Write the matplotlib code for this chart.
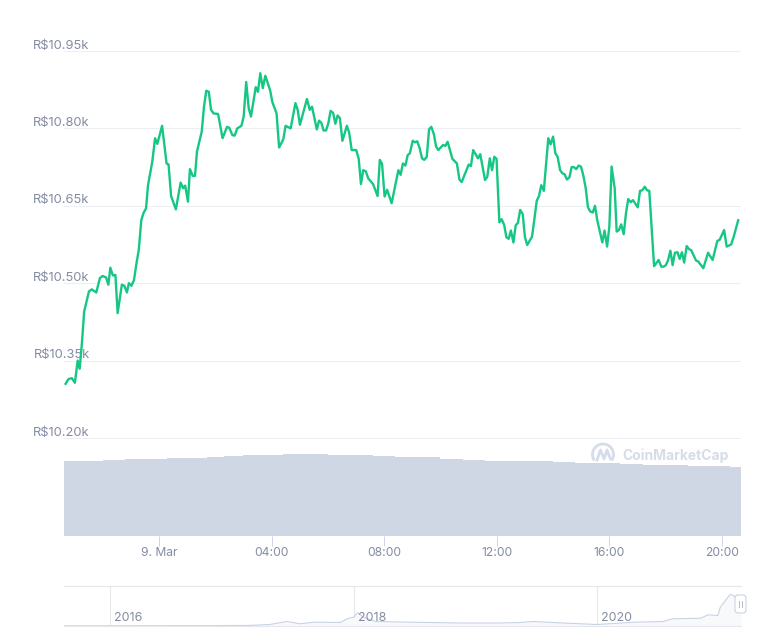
from matplotlib import pyplot as plt
from matplotlib.patches import Arc, FancyBboxPatch

# hours relative to 9 Mar 00:00
hours = [-3.32, -3.22, -3.10, -2.99, -2.89, -2.82, -2.74, -2.66, -2.49, -2.39, -2.23, -2.10, -2.00, -1.88, -1.80,
         -1.73, -1.64, -1.55, -1.47, -1.32, -1.23, -1.14, -1.07, -0.98, -0.89, -0.79, -0.72, -0.63, -0.55, -0.46,
         -0.39, -0.24, -0.14, -0.06, 0.11, 0.27, 0.34, 0.43, 0.60, 0.77, 0.86, 0.93, 1.03, 1.10, 1.20,
         1.28, 1.35, 1.52, 1.60, 1.68, 1.77, 1.85, 1.94, 2.10, 2.26, 2.42, 2.50, 2.61, 2.69, 2.78,
         2.93, 3.01, 3.10, 3.19, 3.27, 3.44, 3.52, 3.60, 3.69, 3.78, 3.95, 4.03, 4.18, 4.27, 4.42,
         4.50, 4.68, 4.85, 4.93, 5.01, 5.26, 5.36, 5.44, 5.61, 5.69, 5.77, 5.85, 5.94, 6.02, 6.10,
         6.19, 6.27, 6.35, 6.43, 6.52, 6.68, 6.76, 6.85, 7.01, 7.10, 7.18, 7.26, 7.35, 7.44, 7.61,
         7.77, 7.85, 7.93, 8.02, 8.11, 8.27, 8.51, 8.59, 8.67, 8.76, 8.84, 8.92, 9.02, 9.10, 9.18,
         9.27, 9.35, 9.43, 9.52, 9.60, 9.68, 9.77, 9.85, 9.93, 10.10, 10.18, 10.26, 10.43, 10.59, 10.68,
         10.76, 11.01, 11.09, 11.17, 11.34, 11.42, 11.59, 11.67, 11.76, 11.84, 11.92, 12.00, 12.10, 12.18, 12.27,
         12.35, 12.43, 12.51, 12.60, 12.68, 12.76, 12.84, 12.93, 13.01, 13.09, 13.26, 13.34, 13.43, 13.51, 13.59,
         13.68, 13.84, 13.92, 14.01, 14.09, 14.17, 14.26, 14.34, 14.42, 14.50, 14.59, 14.67, 14.75, 14.83, 14.92,
         15.00, 15.08, 15.17, 15.25, 15.33, 15.42, 15.50, 15.58, 15.76, 15.84, 15.93, 16.01, 16.09, 16.20, 16.27,
         16.35, 16.43, 16.52, 16.60, 16.68, 16.77, 16.85, 17.02, 17.10, 17.18, 17.27, 17.35, 17.43, 17.60, 17.76,
         17.86, 17.94, 18.02, 18.10, 18.18, 18.26, 18.34, 18.43, 18.51, 18.59, 18.67, 18.76, 18.84, 18.92, 19.09,
         19.17, 19.35, 19.52, 19.68, 19.85, 19.93, 20.09, 20.18, 20.34, 20.43, 20.59]
prices = [10305, 10314, 10316, 10307, 10350, 10334, 10384, 10445, 10484, 10488, 10482, 10510, 10514, 10511, 10497,
          10530, 10515, 10516, 10442, 10497, 10495, 10482, 10500, 10495, 10506, 10542, 10564, 10622, 10636, 10645,
          10690, 10735, 10781, 10770, 10805, 10732, 10730, 10669, 10643, 10695, 10684, 10689, 10658, 10721, 10708,
          10708, 10755, 10794, 10842, 10873, 10871, 10836, 10829, 10828, 10781, 10803, 10801, 10787, 10786, 10800,
          10805, 10823, 10890, 10839, 10823, 10880, 10871, 10907, 10878, 10902, 10874, 10851, 10829, 10763, 10779,
          10805, 10800, 10849, 10836, 10807, 10857, 10836, 10842, 10798, 10815, 10811, 10796, 10796, 10810, 10834,
          10830, 10809, 10825, 10820, 10776, 10805, 10792, 10758, 10758, 10741, 10692, 10719, 10717, 10703, 10692,
          10669, 10739, 10731, 10668, 10681, 10655, 10719, 10710, 10732, 10728, 10748, 10752, 10776, 10773, 10775,
          10761, 10742, 10739, 10745, 10798, 10803, 10789, 10765, 10758, 10768, 10766, 10774, 10741, 10732, 10701,
          10696, 10730, 10727, 10758, 10742, 10750, 10700, 10706, 10742, 10719, 10745, 10741, 10618, 10624, 10613,
          10589, 10586, 10602, 10579, 10612, 10617, 10642, 10634, 10589, 10574, 10590, 10622, 10660, 10669, 10690,
          10679, 10781, 10769, 10784, 10752, 10745, 10719, 10713, 10711, 10701, 10705, 10725, 10725, 10721, 10728,
          10726, 10710, 10684, 10647, 10639, 10637, 10650, 10622, 10579, 10602, 10571, 10610, 10726, 10684, 10600,
          10603, 10614, 10595, 10635, 10663, 10657, 10661, 10647, 10679, 10680, 10687, 10680, 10679, 10533, 10545,
          10532, 10532, 10535, 10545, 10563, 10535, 10559, 10560, 10547, 10560, 10540, 10572, 10566, 10564, 10544,
          10542, 10529, 10559, 10545, 10582, 10584, 10603, 10571, 10575, 10590, 10622]

price_ticks = [10200, 10350, 10500, 10650, 10800, 10950]
price_labels = ['R$10.20k', 'R$10.35k', 'R$10.50k', 'R$10.65k', 'R$10.80k', 'R$10.95k']

vol_hours = [-3.38, -2.6, -2.0, -1.2, -0.4, 0.3, 1.0, 1.7, 2.3, 3.0, 3.7, 4.4, 5.2, 6.0, 6.8, 7.6, 8.4, 9.2,
             10.0, 10.8, 11.6, 12.4, 13.2, 14.0, 14.8, 15.6, 16.4, 17.2, 18.0, 18.8, 19.6, 20.3, 20.69]
volumes = [75, 75.5, 76.5, 77, 77.5, 78.5, 78, 79, 80.5, 81, 81.5, 82, 82, 81.5, 81.5, 80.5, 79.5, 79,
           77.5, 76.5, 75.5, 75, 75.5, 74.5, 73.5, 73, 72, 71.5, 71, 70.5, 70, 69, 69]
x_ticks = [0, 4, 8, 12, 16, 20]
x_labels = ['9. Mar', '04:00', '08:00', '12:00', '16:00', '20:00']

nav_years = [2015.62, 2016.0, 2016.74, 2017.15, 2017.31, 2017.45, 2017.56, 2017.67, 2017.89, 2017.95, 2018.0, 2018.03,
             2018.08, 2018.18, 2018.38, 2018.87, 2019.2, 2019.37, 2019.47, 2019.75, 2020.0, 2020.3, 2020.54, 2020.62,
             2020.85, 2020.91, 2020.99, 2021.01, 2021.09, 2021.12, 2021.16, 2021.18]
nav_values = [0.2, 0.2, 0.3, 0.6, 1.5, 4.5, 2.2, 3.8, 3.5, 7.5, 8.8, 13.2,
              8.8, 4.5, 4, 3, 3, 3.5, 4.5, 2.8, 1.5, 3.8, 4.5, 7.2,
              7.8, 11.2, 10.5, 18.8, 31.5, 30.5, 23.8, 21.5]
nav_ticks = [2016, 2018, 2020]
nav_labels = ['2016', '2018', '2020']

GREY = '#858ca2'
GRID = '#eceef3'
W, H = 770, 637


def frame(left, top, right, bottom):
    return [left / W, (H - bottom) / H, (right - left) / W, (bottom - top) / H]


plt.rcParams['font.family'] = 'Inter'
fig = plt.figure(figsize=(7.7, 6.37), dpi=100)

# volume pane
ax_vol = fig.add_axes(frame(64, 438, 741, 536))
ax_vol.fill_between(vol_hours, volumes, 0, step='post', color='#cfd6e4', linewidth=0)
ax_vol.set_xlim(-3.377, 20.69)
ax_vol.set_ylim(0, 98)
ax_vol.set_yticks([])
ax_vol.set_xticks(x_ticks, x_labels)
ax_vol.tick_params(axis='x', length=7.2, width=0.72, color='#ccd6eb', labelcolor=GREY, labelsize=8.7, pad=0.5)
for s in ax_vol.spines.values():
    s.set_visible(False)

# price pane
ax = fig.add_axes(frame(64, 51, 741, 438.5))
ax.patch.set_alpha(0)
ax.plot(hours, prices, color='#16c784', linewidth=1.7, solid_joinstyle='round')
ax.set_xlim(-3.377, 20.69)
ax.set_ylim(10199, 10950)
ax.set_xticks([])
ax.set_yticks(price_ticks)
ax.set_yticklabels([])
ax.tick_params(axis='y', length=0)
ax.grid(axis='y', color=GRID, linewidth=0.8)
ax.set_axisbelow(True)
for s in ax.spines.values():
    s.set_visible(False)
for v, lab in zip(price_ticks, price_labels):
    ax.annotate(lab, xy=(0, v), xycoords=ax.get_yaxis_transform(), xytext=(18.5, -0.5), textcoords='offset points',
                ha='right', va='bottom', color=GREY, fontsize=9.3, zorder=1)

# navigator
ax_nav = fig.add_axes(frame(64, 586, 741, 626))
ax_nav.fill_between(nav_years, nav_values, 0, color='#f8f9fb', linewidth=0)
ax_nav.plot(nav_years, nav_values, color='#c9d2e3', linewidth=0.8)
ax_nav.set_xlim(2015.62, 2021.18)
ax_nav.set_ylim(0, 40)
ax_nav.set_xticks(nav_ticks)
ax_nav.set_xticklabels([])
ax_nav.set_yticks([])
ax_nav.tick_params(axis='x', length=0)
ax_nav.grid(axis='x', color='#e6e8ee', linewidth=0.8)
ax_nav.set_axisbelow(True)
for s in ax_nav.spines.values():
    s.set_visible(False)
for s in ['top', 'bottom']:
    ax_nav.spines[s].set_visible(True)
    ax_nav.spines[s].set_color('#e6e8ee')
    ax_nav.spines[s].set_linewidth(0.8)
for v, lab in zip(nav_ticks, nav_labels):
    ax_nav.annotate(lab, xy=(v, 0), xycoords=ax_nav.get_xaxis_transform(), xytext=(3, 1.5), textcoords='offset points',
                    ha='left', va='bottom', color=GREY, fontsize=9)

# overlay in pixels: watermark and navigator handle
over = fig.add_axes([0, 0, 1, 1])
over.set_xlim(0, W)
over.set_ylim(H, 0)
over.axis('off')
over.patch.set_alpha(0)
wm = '#d6dce9'
over.add_patch(Arc((603, 454.5), 21, 21, theta1=-215, theta2=35, color=wm, linewidth=2))
over.plot([597, 600.5, 604, 607, 610.5], [460, 450, 459, 450, 459], color=wm, linewidth=2)
over.text(622, 456, 'CoinMarketCap', color=wm, fontsize=10, fontweight='bold', ha='left', va='center')
over.add_patch(FancyBboxPatch((735, 595), 11, 18, boxstyle='round,pad=0,rounding_size=3',
                              facecolor='white', edgecolor='#ccd3e0', linewidth=0.8))
over.plot([739, 739], [601, 607], color='#b5bccb', linewidth=0.7)
over.plot([741.5, 741.5], [601, 607], color='#b5bccb', linewidth=0.7)

plt.savefig('out.png', dpi=100)
